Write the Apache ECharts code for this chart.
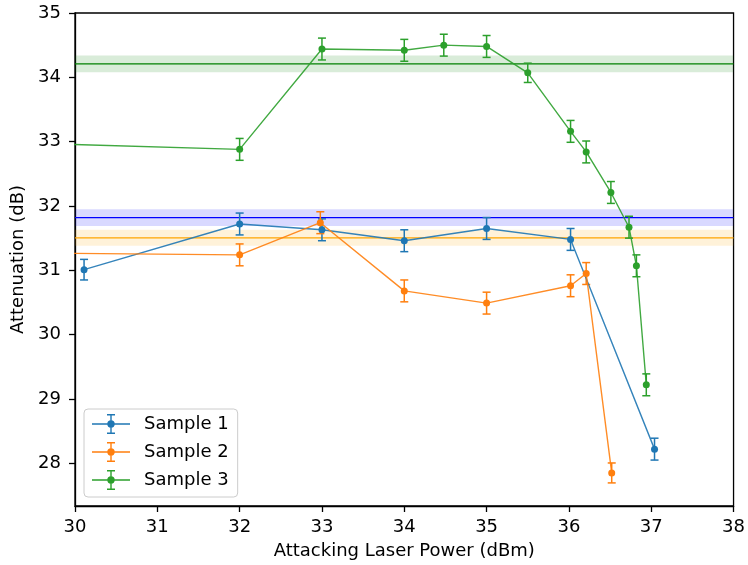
<!DOCTYPE html>
<html><head><meta charset="utf-8">
<script src="https://cdn.jsdelivr.net/npm/echarts@6.0.0/dist/echarts.min.js"></script>
<style>html,body{margin:0;padding:0;background:#fff}#c{width:748px;height:565px}</style>
</head><body><div id="c"></div>
<script>
// ---- data ----
const xTicks = [30, 31, 32, 33, 34, 35, 36, 37, 38];
const yTicks = [28, 29, 30, 31, 32, 33, 34, 35];
const yMin = 27.336;
const seriesNames = ['Sample 1', 'Sample 2', 'Sample 3'];

const s1X = [30.11, 32.0, 33.0, 34.0, 35.0, 36.02, 37.04];
const s1Y = [31.01, 31.72, 31.63, 31.46, 31.65, 31.48, 28.22];
const s1Err = [0.16, 0.17, 0.17, 0.17, 0.17, 0.17, 0.17];

const s2X = [29.9, 32.0, 32.98, 34.0, 35.0, 36.02, 36.21, 36.52];
const s2Y = [31.265, 31.24, 31.74, 30.68, 30.49, 30.76, 30.95, 27.85];
const s2Err = [0.17, 0.17, 0.17, 0.17, 0.17, 0.17, 0.17, 0.155];

const s3X = [29.9, 32.0, 33.0, 34.0, 34.48, 35.0, 35.5, 36.02, 36.21, 36.51, 36.73, 36.82, 36.94];
const s3Y = [32.96, 32.88, 34.44, 34.42, 34.50, 34.48, 34.07, 33.16, 32.84, 32.21, 31.67, 31.07, 29.22];
const s3Err = [0.17, 0.17, 0.17, 0.17, 0.17, 0.17, 0.15, 0.17, 0.17, 0.17, 0.17, 0.17, 0.17];

const refValues = [31.82, 31.505, 34.21];
const refErr = [0.13, 0.125, 0.13];

// ---- styles ----
const sColors = ['#1f77b4', '#ff7f0e', '#2ca02c'];
const refColors = ['#0000ff', '#ffa500', '#008000'];
const bandColors = ['rgba(0,0,255,0.15)', 'rgba(255,165,0,0.15)', 'rgba(0,128,0,0.15)'];
const FONT = 'DejaVu Sans';
const FS = 18;

const sets = [[s1X, s1Y, s1Err], [s2X, s2Y, s2Err], [s3X, s3Y, s3Err]];

function errSeries(i) {
  const [xs, ys, es] = sets[i];
  const color = sColors[i];
  return {
    type: 'custom', name: seriesNames[i] + ' err', clip: true, z: 3, silent: true,
    data: xs.map((x, k) => [x, ys[k] - es[k], ys[k] + es[k]]),
    encode: { x: 0, y: [1, 2] },
    renderItem: (params, api) => {
      const x = api.value(0);
      const lo = api.coord([x, api.value(1)]);
      const hi = api.coord([x, api.value(2)]);
      const cw = 4;
      const style = { stroke: color, lineWidth: 1.5, fill: null };
      return { type: 'group', children: [
        { type: 'line', shape: { x1: lo[0], y1: lo[1], x2: hi[0], y2: hi[1] }, style },
        { type: 'line', shape: { x1: lo[0] - cw, y1: lo[1], x2: lo[0] + cw, y2: lo[1] }, style },
        { type: 'line', shape: { x1: hi[0] - cw, y1: hi[1], x2: hi[0] + cw, y2: hi[1] }, style }
      ] };
    }
  };
}

function lineSeries(i) {
  const [xs, ys] = sets[i];
  return {
    type: 'line', name: seriesNames[i], clip: true, z: 4,
    data: xs.map((x, k) => [x, ys[k]]),
    symbol: 'circle', symbolSize: 7, showSymbol: true,
    lineStyle: { color: sColors[i], width: 1.4, opacity: 0.9 },
    itemStyle: { color: sColors[i], borderWidth: 0 },
    emphasis: { disabled: true }
  };
}

function refSeries(i) {
  const v = refValues[i], e = refErr[i];
  return {
    type: 'line', name: 'ref' + i, z: 2, silent: true,
    data: [[xTicks[0], v], [xTicks[xTicks.length - 1], v]],
    symbol: 'none',
    lineStyle: { color: refColors[i], width: 1.3 },
    markArea: { silent: true, itemStyle: { color: bandColors[i] }, data: [[{ yAxis: v - e }, { yAxis: v + e }]] },
    emphasis: { disabled: true }
  };
}

// legend glyph: line + error bar + dot, built from non-overlapping pieces
const iconPath = 'path://M0,9.25H15.4V10.75H0Z M22.6,9.25H38V10.75H22.6Z ' +
  'M18.3,0.75H19.7V6.35H18.3Z M18.3,13.65H19.7V19.25H18.3Z ' +
  'M15,0H23V1.5H15Z M15,18.5H23V20H15Z ' +
  'M15.3,10A3.7,3.7 0 1,1 22.7,10A3.7,3.7 0 1,1 15.3,10Z';

const series = [];
[0, 1, 2].forEach(i => series.push(refSeries(i)));
[0, 1, 2].forEach(i => { series.push(lineSeries(i)); series.push(errSeries(i)); });

const chart = echarts.init(document.getElementById('c'), null, { renderer: 'canvas' });
chart.setOption({
  animation: false,
  backgroundColor: '#fff',
  textStyle: { fontFamily: FONT },
  grid: { left: 75, right: 9, top: 13, bottom: 57, show: true, borderColor: '#000', borderWidth: 1.3, backgroundColor: 'transparent' },
  legend: {
    left: 84, top: 409, orient: 'vertical',
    data: seriesNames.map(n => ({ name: n, icon: iconPath })),
    itemWidth: 38, itemHeight: 20, itemGap: 8,
    padding: [5, 9, 7, 8],
    backgroundColor: 'rgba(255,255,255,0.8)',
    borderColor: '#cccccc', borderWidth: 1, borderRadius: 4,
    itemStyle: { borderWidth: 0 },
    textStyle: { fontFamily: FONT, fontSize: FS, color: '#000', padding: [0, 0, 0, 9] },
    selectedMode: false
  },
  xAxis: {
    type: 'value', min: xTicks[0], max: xTicks[xTicks.length - 1], interval: 1,
    name: 'Attacking Laser Power (dBm)', nameLocation: 'middle', nameGap: 36,
    nameTextStyle: { fontFamily: FONT, fontSize: FS, color: '#000' },
    axisLine: { show: true, onZero: false, lineStyle: { color: '#000', width: 1.3 } },
    axisTick: { show: true, length: 6, lineStyle: { color: '#000', width: 1.3 } },
    axisLabel: { fontFamily: FONT, fontSize: FS, color: '#000', margin: 12 },
    splitLine: { show: false }
  },
  yAxis: {
    type: 'value', min: yMin, max: yTicks[yTicks.length - 1],
    name: 'Attenuation (dB)', nameLocation: 'middle', nameGap: 39,
    nameTextStyle: { fontFamily: FONT, fontSize: FS, color: '#000' },
    axisLine: { show: true, onZero: false, lineStyle: { color: '#000', width: 1.3 } },
    axisTick: { show: true, length: 6, customValues: yTicks, lineStyle: { color: '#000', width: 1.3 } },
    axisLabel: { fontFamily: FONT, fontSize: FS, color: '#000', margin: 14, customValues: yTicks },
    splitLine: { show: false }
  },
  series
});
</script></body></html>
